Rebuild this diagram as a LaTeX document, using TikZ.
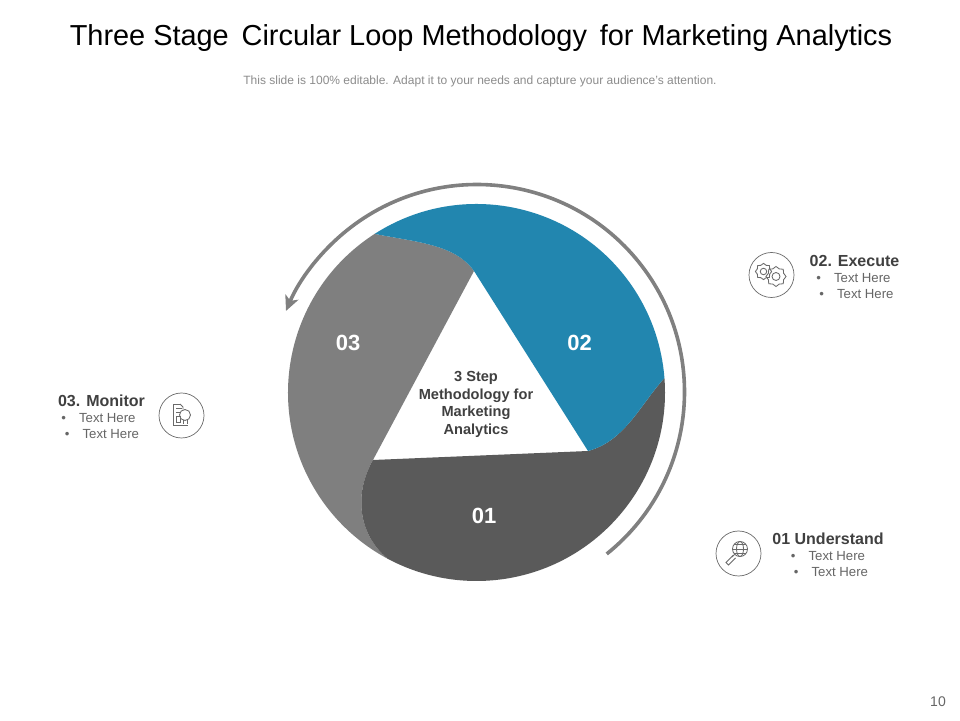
\documentclass[tikz,border=0pt]{standalone}
\usepackage{fontspec}
\setmainfont{Liberation Sans}
\usetikzlibrary{arrows.meta}
\definecolor{teal}{HTML}{2286AF}
\definecolor{midg}{HTML}{7F7F7F}
\definecolor{darkg}{HTML}{5A5A5A}
\definecolor{arrowg}{HTML}{808080}
\definecolor{head}{HTML}{404040}
\definecolor{body}{HTML}{666666}
\definecolor{iconline}{HTML}{6A6A6A}
\definecolor{subg}{HTML}{8C8C8C}
\tikzset{
  x=1pt,y=1pt,
  txt/.style={inner sep=0pt,outer sep=0pt,anchor=center},
  lab/.style={txt,font=\fontsize{16}{18}\selectfont\bfseries,text=head},
  item/.style={txt,font=\fontsize{13.2}{15}\selectfont,text=body},
  num/.style={txt,font=\fontsize{22}{24}\selectfont\bfseries,text=white},
  iconc/.style={circle,draw=iconline,line width=0.7pt,minimum size=45pt,inner sep=0pt},
  ico/.style={draw=iconline,line width=0.85pt}
}
\begin{document}
\begin{tikzpicture}
\useasboundingbox (0,0) rectangle (960,720);
\fill[white] (0,0) rectangle (960,720);
\coordinate (C) at (476.5,327.5);
\coordinate (A) at ([shift={(C)}]122.7:188.5pt);
\coordinate (B) at ([shift={(C)}]4.4:188.5pt);
\coordinate (D) at ([shift={(C)}]241.9:188.5pt);
\coordinate (T1) at (474,449);
\coordinate (T2) at (588,269);
\coordinate (T3) at (373,260);
% segments
\fill[midg] (A) arc[start angle=122.7,end angle=241.9,radius=188.5pt]
  .. controls (359,185) and (353,225) .. (T3) -- (T1)
  .. controls (455,476) and (415,478) .. (A) -- cycle;
\fill[darkg] (B) arc[start angle=4.4,end angle=-118.1,radius=188.5pt]
  .. controls (359,185) and (353,225) .. (T3) -- (T2)
  .. controls (625,279) and (640,315) .. (B) -- cycle;
\fill[teal] (A) arc[start angle=122.7,end angle=4.4,radius=188.5pt]
  .. controls (640,315) and (625,279) .. (T2) -- (T1)
  .. controls (455,476) and (415,478) .. (A) -- cycle;
% arrow
\coordinate (arcstart) at ([shift={(477,328)}]-51.3:207.5pt);
\draw[arrowg,line width=3.6pt,-{Stealth[length=15pt,width=14pt,inset=4pt]}]
  (arcstart) arc[start angle=-51.3,end angle=157,radius=207.5pt];
% texts
\node[txt,font=\fontsize{28.9}{32}\selectfont,text=black] (title) at (481,682) {Three Stage\, Circular Loop Methodology\, for Marketing Analytics};
\node[txt,font=\fontsize{12}{14}\selectfont,text=subg] (sub) at (480,639) {This slide is 100\% editable. Adapt it to your needs and capture your audience's attention.};
\node[txt,font=\fontsize{14.6}{17.7}\selectfont\bfseries,text=head,align=center] (center) at (476,315.5) {3 Step\\Methodology for\\Marketing\\Analytics};
\node[num] (n3) at (348,377) {03};
\node[num] (n2) at (579.5,377) {02};
\node[num] (n1) at (484,204.5) {01};
\node[txt,font=\fontsize{14}{16}\selectfont,text=body] (page) at (938,18) {10};
% execute
\node[iconc] (ie) at (771.5,445) {};
\node[lab] (le) at (854.5,459.5) {02. Execute};
\node[item] (le1) at (853.5,441.5) {•\hspace{13pt}Text Here};
\node[item] (le2) at (856.5,425.5) {•\hspace{13pt}Text Here};
% monitor
\node[iconc] (im) at (181.5,304.5) {};
\node[lab] (lm) at (101.5,319.5) {03. Monitor};
\node[item] (lm1) at (98.5,301.5) {•\hspace{13pt}Text Here};
\node[item] (lm2) at (102,285.5) {•\hspace{13pt}Text Here};
% understand
\node[iconc] (iu) at (738.5,166.5) {};
\node[lab] (lu) at (828,181.5) {01 Understand};
\node[item] (lu1) at (828,163.5) {•\hspace{13pt}Text Here};
\node[item] (lu2) at (831,147.5) {•\hspace{13pt}Text Here};
% gears icon
\foreach \gx/\gy/\gr in {763.5/448.5/6.5,776/443.5/8}{
  \draw[ico] plot[smooth cycle,tension=0.2] coordinates {
    (\gx+\gr*1.25,\gy) (\gx+\gr*0.95,\gy+\gr*0.4) (\gx+\gr*0.9,\gy+\gr*0.9) (\gx+\gr*0.4,\gy+\gr*0.95)
    (\gx,\gy+\gr*1.25) (\gx-\gr*0.4,\gy+\gr*0.95) (\gx-\gr*0.9,\gy+\gr*0.9) (\gx-\gr*0.95,\gy+\gr*0.4)
    (\gx-\gr*1.25,\gy) (\gx-\gr*0.95,\gy-\gr*0.4) (\gx-\gr*0.9,\gy-\gr*0.9) (\gx-\gr*0.4,\gy-\gr*0.95)
    (\gx,\gy-\gr*1.25) (\gx+\gr*0.4,\gy-\gr*0.95) (\gx+\gr*0.9,\gy-\gr*0.9) (\gx+\gr*0.95,\gy-\gr*0.4)};
  \draw[ico] (\gx,\gy) circle[radius=\gr*0.5];
}
% monitor icon
\draw[ico] (180,316) -- (173,316) -- (173,295) -- (188,295);
\draw[ico] (180,316) -- (183,313) -- (183,310.5);
\draw[ico] (176,312) -- (182,312);
\draw[ico] (176,308) -- (180,308) (176,304) rectangle (180,297.5);
\draw[ico] (185,305) circle[radius=5.5pt];
\draw[ico] (183.5,299.5) -- (183.5,296) (187,299.5) -- (187,296);
% understand icon
\draw[ico] (740,171) circle[radius=7.5pt];
\draw[ico] (740,171) ellipse[x radius=3.5pt,y radius=7.5pt];
\draw[ico] (732.5,171) -- (747.5,171) (734,175.5) -- (746,175.5) (734,166.5) -- (746,166.5);
\draw[ico] (734.5,165.5) -- (732,163);
\draw[ico] (733,164.5) -- (726,157.5) -- (728.5,155) -- (735.5,162);
\end{tikzpicture}
\end{document}
